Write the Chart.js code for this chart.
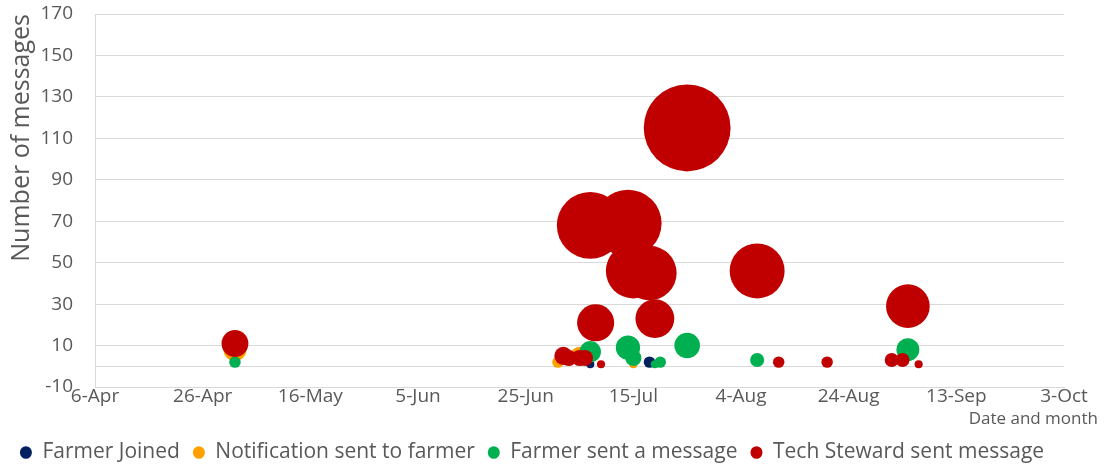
<!DOCTYPE html>
<html lang="en">
<head>
    <meta charset="UTF-8">
    <title>Messages by date</title>
    <script src="https://cdn.jsdelivr.net/npm/chart.js"></script>
    <style>
        html, body { margin: 0; padding: 0; background: #fff; }
        #wrap { width: 1104px; height: 468px; }
    </style>
</head>
<body>
    <div id="wrap"><canvas id="chart"></canvas></div>

    <script>
        // Eje X: una marca cada 20 dias desde el 6-Apr
        const xTickLabels = ['6-Apr', '26-Apr', '16-May', '5-Jun', '25-Jun', '15-Jul', '4-Aug', '24-Aug', '13-Sep', '3-Oct'];
        const xStepDays = 20;
        const yMin = -10, yMax = 170, yStep = 20;
        const yTitle = 'Number of messages';
        const xTitle = 'Date and month';

        // Series (fecha, numero de mensajes = tamaño de la burbuja)
        const joinedDates = ['7-Jul', '18-Jul'];
        const joinedCounts = [1, 2];

        const notifDates = ['2-May', '1-Jul', '5-Jul', '15-Jul'];
        const notifCounts = [8, 2, 5, 1];

        const farmerMsgDates = ['2-May', '7-Jul', '14-Jul', '15-Jul', '19-Jul', '20-Jul', '25-Jul', '7-Aug', '4-Sep'];
        const farmerMsgCounts = [2, 7, 9, 4, 1, 2, 10, 3, 8];

        const stewardDates = ['2-May', '2-Jul', '3-Jul', '5-Jul', '6-Jul', '7-Jul', '8-Jul', '9-Jul', '14-Jul', '15-Jul',
                              '18-Jul', '19-Jul', '25-Jul', '7-Aug', '11-Aug', '20-Aug', '1-Sep', '3-Sep', '4-Sep', '6-Sep'];
        const stewardCounts = [11, 5, 4, 4, 4, 68, 21, 1, 69, 46, 45, 23, 115, 46, 2, 2, 3, 3, 29, 1];

        // dias desde el 6-Apr
        const monthStart = { Apr: -5, May: 25, Jun: 56, Jul: 86, Aug: 117, Sep: 148, Oct: 178 };
        function toDay(label) {
            const parts = label.split('-');
            return monthStart[parts[1]] + Number(parts[0]) - 1;
        }

        function bubbles(dates, counts) {
            return dates.map((d, i) => ({ x: toDay(d), y: counts[i], r: 4.05 * Math.sqrt(counts[i]) }));
        }

        const grey = '#595959';
        const font = 'Open Sans';

        // titulo del eje X, alineado a la derecha bajo las etiquetas
        const xTitlePlugin = {
            id: 'xTitle',
            afterDraw(chart) {
                const ctx = chart.ctx;
                ctx.save();
                ctx.font = '17px "' + font + '"';
                ctx.fillStyle = grey;
                ctx.textAlign = 'right';
                ctx.textBaseline = 'middle';
                ctx.fillText(xTitle, chart.width - 6, chart.scales.x.top + 32);
                ctx.restore();
            }
        };

        new Chart(document.getElementById('chart'), {
            type: 'bubble',
            data: {
                datasets: [
                    { label: 'Farmer Joined', data: bubbles(joinedDates, joinedCounts), backgroundColor: '#002060', order: 3 },
                    { label: 'Notification sent to farmer', data: bubbles(notifDates, notifCounts), backgroundColor: '#FFA000', order: 2 },
                    { label: 'Farmer sent a message', data: bubbles(farmerMsgDates, farmerMsgCounts), backgroundColor: '#00B050', order: 1 },
                    { label: 'Tech Steward sent message', data: bubbles(stewardDates, stewardCounts), backgroundColor: '#C00000', order: 0 }
                ]
            },
            options: {
                responsive: true,
                maintainAspectRatio: false,
                animation: false,
                layout: { autoPadding: false, padding: { top: 14, right: 40, left: 0, bottom: -5 } },
                elements: { point: { borderWidth: 0, hoverBorderWidth: 0, hoverRadius: 0 } },
                scales: {
                    x: {
                        type: 'linear',
                        min: 0,
                        max: xStepDays * (xTickLabels.length - 1),
                        grid: { display: false, drawTicks: false },
                        border: { display: true, color: '#D9D9D9' },
                        ticks: {
                            stepSize: xStepDays,
                            padding: -2,
                            maxRotation: 0,
                            color: grey,
                            font: { family: font, size: 19 },
                            callback: (v) => xTickLabels[Math.round(v / xStepDays)]
                        },
                        afterFit: (scale) => { scale.height = 42; }
                    },
                    y: {
                        min: yMin,
                        max: yMax,
                        // marcas invisibles: solo separan las etiquetas del eje
                        grid: { color: '#D9D9D9', drawTicks: true, tickLength: 20, tickColor: 'rgba(0,0,0,0)' },
                        border: { display: true, color: '#D9D9D9' },
                        ticks: {
                            stepSize: yStep,
                            padding: 2,
                            color: grey,
                            font: { family: font, size: 19 },
                            callback: (v) => (v === 0 ? '' : v)
                        },
                        // linea extra en 0 como en el original
                        afterBuildTicks: (scale) => {
                            scale.ticks.push({ value: 0 });
                            scale.ticks.sort((a, b) => a.value - b.value);
                        },
                        afterFit: (scale) => { scale.width = 95; },
                        title: {
                            display: true,
                            text: yTitle,
                            align: 'end',
                            color: grey,
                            font: { family: font, size: 25 },
                            padding: { top: 7, bottom: 0 }
                        }
                    }
                },
                plugins: {
                    tooltip: { enabled: false },
                    legend: {
                        position: 'bottom',
                        reverse: true,
                        labels: {
                            usePointStyle: true,
                            pointStyle: 'circle',
                            pointStyleWidth: 12,
                            boxHeight: 9,
                            padding: 13,
                            color: grey,
                            font: { family: font, size: 21 }
                        }
                    }
                }
            },
            plugins: [xTitlePlugin]
        });
    </script>
</body>
</html>
